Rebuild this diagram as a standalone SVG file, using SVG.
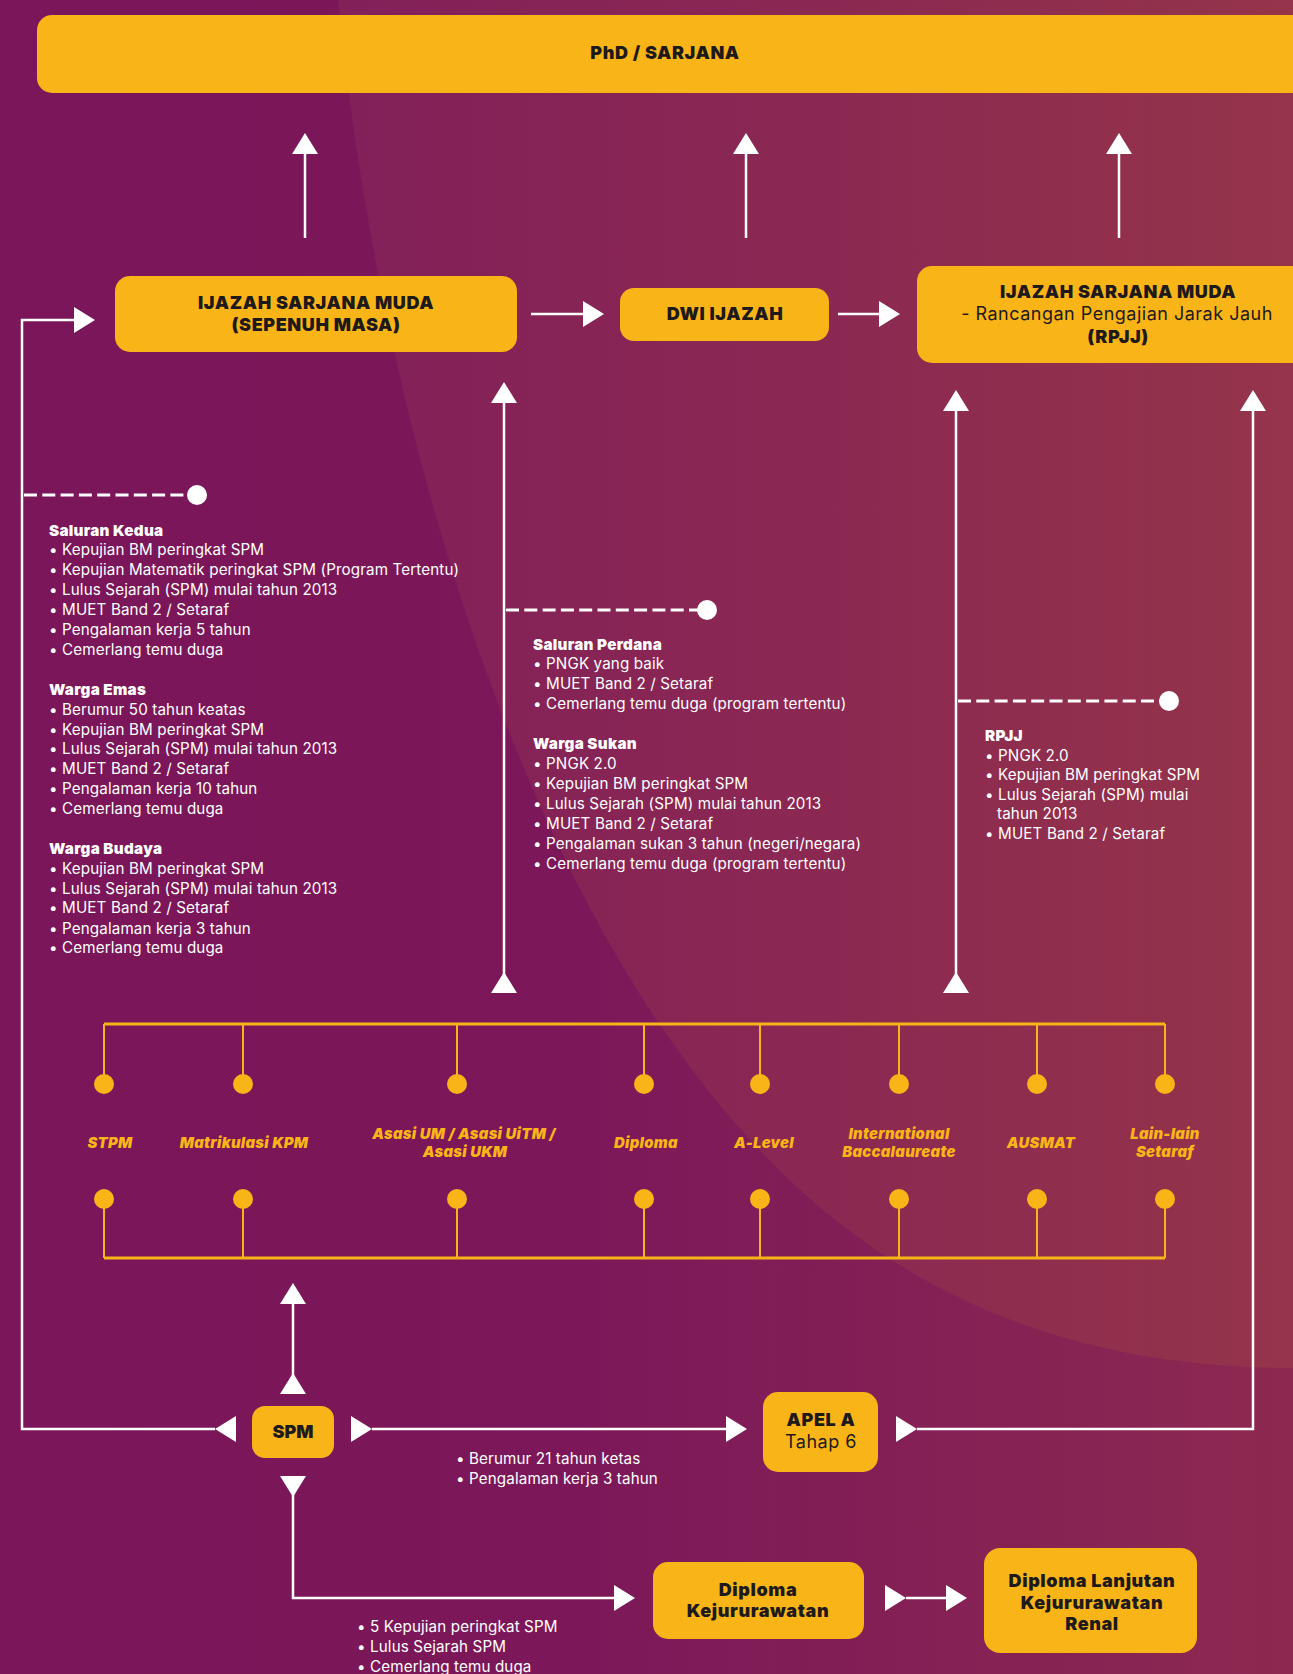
<svg xmlns="http://www.w3.org/2000/svg" xmlns:xlink="http://www.w3.org/1999/xlink" width="1293" height="1674" viewBox="0 0 1293 1674">
<defs>
<linearGradient id="bg" x1="0" y1="0" x2="1293" y2="0" gradientUnits="userSpaceOnUse">
<stop offset="0" stop-color="#7A1659"/>
<stop offset="0.45" stop-color="#7C1859"/>
<stop offset="1" stop-color="#8D2950"/>
</linearGradient>
<linearGradient id="arc" x1="340" y1="0" x2="1293" y2="0" gradientUnits="userSpaceOnUse">
<stop offset="0" stop-color="#82205A"/>
<stop offset="0.5" stop-color="#8B2852"/>
<stop offset="1" stop-color="#95344A"/>
</linearGradient>
<polygon id="ah" points="0,0 -21,-13 -21,13" fill="#FFFFFF"/>
<style>
.box{fill:#F9B418;}
.t{font-family:Inter,"Liberation Sans",sans-serif;fill:#1E1A1A;text-anchor:middle;}
.tb{font-weight:900;font-size:18px;letter-spacing:0.6px;}
.tr{font-weight:400;font-size:18px;letter-spacing:0.5px;}
.w{font-family:Inter,"Liberation Sans",sans-serif;fill:#FFFFFF;font-size:15.2px;letter-spacing:0.12px;}
.wh{font-weight:900;letter-spacing:0.3px;}
.lab{font-family:Inter,"Liberation Sans",sans-serif;fill:#F9B418;font-size:14.8px;font-weight:900;font-style:italic;text-anchor:middle;letter-spacing:0.3px;}
.ln{stroke:#FFFFFF;stroke-width:2.5;fill:none;}
.dash{stroke:#FFFFFF;stroke-width:2.8;fill:none;stroke-dasharray:13 5.3;}
.dot{fill:#FFFFFF;}
.bus{stroke:#F9B418;stroke-width:3;fill:none;}
.drop{stroke:#F9B418;stroke-width:2;fill:none;}
.ydot{fill:#F9B418;}
</style>
</defs>

<rect x="0" y="0" width="1293" height="1674" fill="url(#bg)"/>
<path d="M338,0 C380,420 520,900 760,1150 C900,1300 1080,1368 1293,1368 L1293,0 Z" fill="url(#arc)"/>

<g id="connectors">
<!-- up arrows to PhD -->
<line class="ln" x1="305" y1="238" x2="305" y2="150"/>
<use xlink:href="#ah" transform="translate(305,133) rotate(-90)"/>
<line class="ln" x1="746" y1="238" x2="746" y2="150"/>
<use xlink:href="#ah" transform="translate(746,133) rotate(-90)"/>
<line class="ln" x1="1119" y1="238" x2="1119" y2="150"/>
<use xlink:href="#ah" transform="translate(1119,133) rotate(-90)"/>
<!-- horizontal arrows between top boxes -->
<line class="ln" x1="531" y1="314" x2="586" y2="314"/>
<use xlink:href="#ah" transform="translate(604,314)"/>
<line class="ln" x1="838" y1="314" x2="883" y2="314"/>
<use xlink:href="#ah" transform="translate(900,314)"/>
<!-- left loop SPM -> box1 -->
<polyline class="ln" points="215,1429 22,1429 22,320 78,320"/>
<use xlink:href="#ah" transform="translate(95,320)"/>
<use xlink:href="#ah" transform="translate(215,1429) rotate(180)"/>
<!-- vertical middle arrows -->
<line class="ln" x1="504" y1="993" x2="504" y2="400"/>
<use xlink:href="#ah" transform="translate(504,382) rotate(-90)"/>
<use xlink:href="#ah" transform="translate(504,972) rotate(-90)"/>
<line class="ln" x1="956" y1="993" x2="956" y2="408"/>
<use xlink:href="#ah" transform="translate(956,390) rotate(-90)"/>
<use xlink:href="#ah" transform="translate(956,972) rotate(-90)"/>
<!-- right loop APEL -> RPJJ -->
<polyline class="ln" points="917,1429 1253,1429 1253,408"/>
<use xlink:href="#ah" transform="translate(1253,390) rotate(-90)"/>
<use xlink:href="#ah" transform="translate(917,1429)"/>
<!-- SPM -> APEL -->
<line class="ln" x1="372" y1="1429" x2="730" y2="1429"/>
<use xlink:href="#ah" transform="translate(372,1429)"/>
<use xlink:href="#ah" transform="translate(747,1429)"/>
<!-- SPM up -->
<line class="ln" x1="293" y1="1393" x2="293" y2="1300"/>
<use xlink:href="#ah" transform="translate(293,1283) rotate(-90)"/>
<use xlink:href="#ah" transform="translate(293,1373) rotate(-90)"/>
<!-- SPM down -> Diploma Kejururawatan -->
<polyline class="ln" points="293,1480 293,1598 618,1598"/>
<use xlink:href="#ah" transform="translate(293,1497) rotate(90)"/>
<use xlink:href="#ah" transform="translate(635,1598)"/>
<!-- Diploma Kejururawatan -> Renal -->
<line class="ln" x1="906" y1="1598" x2="950" y2="1598"/>
<use xlink:href="#ah" transform="translate(906,1598)"/>
<use xlink:href="#ah" transform="translate(967,1598)"/>
<!-- dashed callouts -->
<line class="dash" x1="24" y1="495" x2="192" y2="495"/>
<circle class="dot" cx="197" cy="495" r="10"/>
<line class="dash" x1="506" y1="610" x2="702" y2="610"/>
<circle class="dot" cx="707" cy="610" r="10"/>
<line class="dash" x1="958" y1="701" x2="1164" y2="701"/>
<circle class="dot" cx="1169" cy="701" r="10"/>
<!-- yellow buses -->
<line class="bus" x1="104" y1="1024" x2="1165" y2="1024"/>
<line class="bus" x1="104" y1="1258" x2="1165" y2="1258"/>
<path class="drop" d="M104,1024V1084M243,1024V1084M457,1024V1084M644,1024V1084M760,1024V1084M899,1024V1084M1037,1024V1084M1165,1024V1084"/>
<path class="drop" d="M104,1199V1258M243,1199V1258M457,1199V1258M644,1199V1258M760,1199V1258M899,1199V1258M1037,1199V1258M1165,1199V1258"/>
<g>
<circle class="ydot" cx="104" cy="1084" r="10"/><circle class="ydot" cx="243" cy="1084" r="10"/><circle class="ydot" cx="457" cy="1084" r="10"/><circle class="ydot" cx="644" cy="1084" r="10"/><circle class="ydot" cx="760" cy="1084" r="10"/><circle class="ydot" cx="899" cy="1084" r="10"/><circle class="ydot" cx="1037" cy="1084" r="10"/><circle class="ydot" cx="1165" cy="1084" r="10"/>
<circle class="ydot" cx="104" cy="1199" r="10"/><circle class="ydot" cx="243" cy="1199" r="10"/><circle class="ydot" cx="457" cy="1199" r="10"/><circle class="ydot" cx="644" cy="1199" r="10"/><circle class="ydot" cx="760" cy="1199" r="10"/><circle class="ydot" cx="899" cy="1199" r="10"/><circle class="ydot" cx="1037" cy="1199" r="10"/><circle class="ydot" cx="1165" cy="1199" r="10"/>
</g>
</g>

<g id="phd">
<rect class="box" x="37" y="15" width="1270" height="78" rx="15"/>
<text class="t tb" x="665" y="59">PhD / SARJANA</text>
</g>

<g id="ism-sepenuh-masa">
<rect class="box" x="115" y="276" width="402" height="76" rx="15"/>
<text class="t tb" x="316" y="309">IJAZAH SARJANA MUDA</text>
<text class="t tb" x="316" y="331">(SEPENUH MASA)</text>
</g>

<g id="dwi-ijazah">
<rect class="box" x="620" y="288" width="209" height="53" rx="14"/>
<text class="t tb" x="725" y="320">DWI IJAZAH</text>
</g>

<g id="ism-rpjj">
<rect class="box" x="917" y="266" width="390" height="97" rx="15"/>
<text class="t tb" x="1118" y="298">IJAZAH SARJANA MUDA</text>
<text class="t tr" x="1117" y="320">- Rancangan Pengajian Jarak Jauh</text>
<text class="t tb" x="1118" y="343">(RPJJ)</text>
</g>

<g id="info-left">
<text class="w wh" x="49" y="536">Saluran Kedua</text>
<text class="w" x="49" y="555">• Kepujian BM peringkat SPM</text>
<text class="w" x="49" y="575">• Kepujian Matematik peringkat SPM (Program Tertentu)</text>
<text class="w" x="49" y="595">• Lulus Sejarah (SPM) mulai tahun 2013</text>
<text class="w" x="49" y="615">• MUET Band 2 / Setaraf</text>
<text class="w" x="49" y="635">• Pengalaman kerja 5 tahun</text>
<text class="w" x="49" y="655">• Cemerlang temu duga</text>
<text class="w wh" x="49" y="695">Warga Emas</text>
<text class="w" x="49" y="715">• Berumur 50 tahun keatas</text>
<text class="w" x="49" y="735">• Kepujian BM peringkat SPM</text>
<text class="w" x="49" y="754">• Lulus Sejarah (SPM) mulai tahun 2013</text>
<text class="w" x="49" y="774">• MUET Band 2 / Setaraf</text>
<text class="w" x="49" y="794">• Pengalaman kerja 10 tahun</text>
<text class="w" x="49" y="814">• Cemerlang temu duga</text>
<text class="w wh" x="49" y="854">Warga Budaya</text>
<text class="w" x="49" y="874">• Kepujian BM peringkat SPM</text>
<text class="w" x="49" y="894">• Lulus Sejarah (SPM) mulai tahun 2013</text>
<text class="w" x="49" y="913">• MUET Band 2 / Setaraf</text>
<text class="w" x="49" y="934">• Pengalaman kerja 3 tahun</text>
<text class="w" x="49" y="953">• Cemerlang temu duga</text>
</g>

<g id="info-middle">
<text class="w wh" x="533" y="650">Saluran Perdana</text>
<text class="w" x="533" y="669">• PNGK yang baik</text>
<text class="w" x="533" y="689">• MUET Band 2 / Setaraf</text>
<text class="w" x="533" y="709">• Cemerlang temu duga (program tertentu)</text>
<text class="w wh" x="533" y="749">Warga Sukan</text>
<text class="w" x="533" y="769">• PNGK 2.0</text>
<text class="w" x="533" y="789">• Kepujian BM peringkat SPM</text>
<text class="w" x="533" y="809">• Lulus Sejarah (SPM) mulai tahun 2013</text>
<text class="w" x="533" y="829">• MUET Band 2 / Setaraf</text>
<text class="w" x="533" y="849">• Pengalaman sukan 3 tahun (negeri/negara)</text>
<text class="w" x="533" y="869">• Cemerlang temu duga (program tertentu)</text>
</g>

<g id="info-right">
<text class="w wh" x="985" y="741">RPJJ</text>
<text class="w" x="985" y="761">• PNGK 2.0</text>
<text class="w" x="985" y="780">• Kepujian BM peringkat SPM</text>
<text class="w" x="985" y="800">• Lulus Sejarah (SPM) mulai</text>
<text class="w" x="997" y="819">tahun 2013</text>
<text class="w" x="985" y="839">• MUET Band 2 / Setaraf</text>
</g>

<g id="kelayakan">
<text class="lab" x="110" y="1148">STPM</text>
<text class="lab" x="244" y="1148">Matrikulasi KPM</text>
<text class="lab" x="464" y="1139">Asasi UM / Asasi UiTM /</text>
<text class="lab" x="465" y="1157">Asasi UKM</text>
<text class="lab" x="646" y="1148">Diploma</text>
<text class="lab" x="764" y="1148">A-Level</text>
<text class="lab" x="899" y="1139">International</text>
<text class="lab" x="899" y="1157">Baccalaureate</text>
<text class="lab" x="1041" y="1148">AUSMAT</text>
<text class="lab" x="1165" y="1139">Lain-lain</text>
<text class="lab" x="1165" y="1157">Setaraf</text>
</g>

<g id="spm">
<rect class="box" x="252" y="1406" width="82" height="52" rx="13"/>
<text class="t tb" x="293" y="1438" style="letter-spacing:0px">SPM</text>
</g>

<g id="apel-a">
<rect class="box" x="763" y="1392" width="115" height="80" rx="15"/>
<text class="t tb" x="821" y="1426">APEL A</text>
<text class="t tr" x="821" y="1448">Tahap 6</text>
</g>

<g id="info-apel">
<text class="w" x="456" y="1464">• Berumur 21 tahun ketas</text>
<text class="w" x="456" y="1484">• Pengalaman kerja 3 tahun</text>
</g>

<g id="diploma-kejururawatan">
<rect class="box" x="653" y="1562" width="211" height="77" rx="15"/>
<text class="t tb" x="758" y="1596">Diploma</text>
<text class="t tb" x="758" y="1617">Kejururawatan</text>
</g>

<g id="info-diploma">
<text class="w" x="357" y="1632">• 5 Kepujian peringkat SPM</text>
<text class="w" x="357" y="1652">• Lulus Sejarah SPM</text>
<text class="w" x="357" y="1672">• Cemerlang temu duga</text>
</g>

<g id="diploma-lanjutan-renal">
<rect class="box" x="984" y="1548" width="213" height="105" rx="16"/>
<text class="t tb" x="1092" y="1587">Diploma Lanjutan</text>
<text class="t tb" x="1092" y="1609">Kejururawatan</text>
<text class="t tb" x="1092" y="1630">Renal</text>
</g>
</svg>
